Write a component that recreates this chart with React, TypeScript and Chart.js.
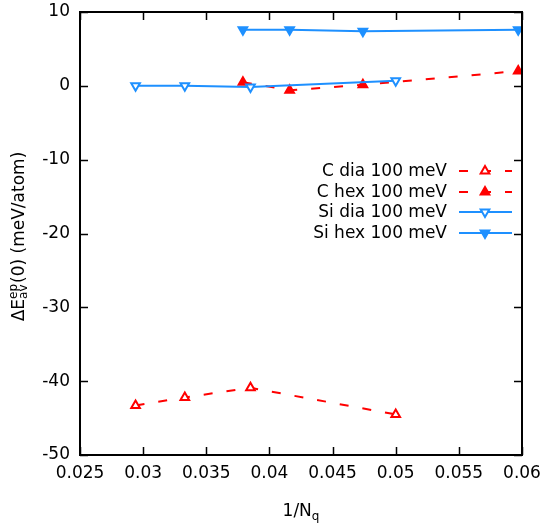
import React, { useEffect, useRef } from "react";
import { Chart, registerables } from "chart.js";

Chart.register(...registerables);

const xCdia = [0.0294, 0.0333, 0.0385, 0.05];
const yCdia = [-43.3, -42.2, -40.9, -44.5];
const xChex = [0.0379, 0.0416, 0.0474, 0.0597];
const yChex = [0.5, -0.6, 0.15, 2.0];
const xSidia = [0.0294, 0.0333, 0.0385, 0.05];
const ySidia = [0.0, 0.0, -0.15, 0.7];
const xSihex = [0.0379, 0.0416, 0.0474, 0.0597];
const ySihex = [7.6, 7.6, 7.4, 7.6];

const seriesNames = ["C dia 100 meV", "C hex 100 meV", "Si dia 100 meV", "Si hex 100 meV"];
const xTicks = [0.025, 0.03, 0.035, 0.04, 0.045, 0.05, 0.055, 0.06];
const yTicks = [10, 0, -10, -20, -30, -40, -50];

const RED = "#ff0000";
const BLUE = "#1e90ff";
const FONT = "DejaVu Sans";
const DASH = [9, 14];
const MR = 5;

function pts(xs: number[], ys: number[]) {
  return xs.map((x, i) => ({ x, y: ys[i] }));
}

function tri(ctx: CanvasRenderingContext2D, x: number, y: number, r: number, down: boolean, filled: boolean, color: string) {
  ctx.save();
  ctx.beginPath();
  const s = down ? -1 : 1;
  ctx.moveTo(x, y - s * r);
  ctx.lineTo(x + r * Math.sin((2 * Math.PI) / 3), y + s * r * 0.5);
  ctx.lineTo(x - r * Math.sin((2 * Math.PI) / 3), y + s * r * 0.5);
  ctx.closePath();
  ctx.setLineDash([]);
  ctx.lineWidth = 2;
  ctx.strokeStyle = color;
  ctx.fillStyle = filled ? color : "#ffffff";
  ctx.fill();
  ctx.stroke();
  ctx.restore();
}

const framePlugin = {
  id: "frame",
  afterDraw(chart: any) {
    const ctx = chart.ctx as CanvasRenderingContext2D;
    const { left, right, top, bottom } = chart.chartArea;
    const xs = chart.scales.x;
    const ys = chart.scales.y;
    ctx.save();
    ctx.strokeStyle = "#000";
    ctx.lineWidth = 2;
    ctx.setLineDash([]);
    ctx.strokeRect(left, top, right - left, bottom - top);
    ctx.lineWidth = 1.5;
    const tl = 8;
    ctx.beginPath();
    xTicks.forEach((v) => {
      const p = Math.round(xs.getPixelForValue(v)) + 0.5;
      ctx.moveTo(p, bottom);
      ctx.lineTo(p, bottom - tl);
      ctx.moveTo(p, top);
      ctx.lineTo(p, top + tl);
    });
    yTicks.forEach((v) => {
      const p = Math.round(ys.getPixelForValue(v)) + 0.5;
      ctx.moveTo(left, p);
      ctx.lineTo(left + tl, p);
      ctx.moveTo(right, p);
      ctx.lineTo(right - tl, p);
    });
    ctx.stroke();

    // x title
    ctx.fillStyle = "#000";
    ctx.textBaseline = "alphabetic";
    ctx.font = `17px ${FONT}`;
    const main = "1/N";
    const wMain = ctx.measureText(main).width;
    ctx.font = `12px ${FONT}`;
    const wSub = ctx.measureText("q").width;
    const cx = (left + right) / 2;
    const x0 = cx - (wMain + wSub) / 2;
    ctx.font = `17px ${FONT}`;
    ctx.textAlign = "left";
    ctx.fillText(main, x0, 516);
    ctx.font = `12px ${FONT}`;
    ctx.fillText("q", x0 + wMain, 520);

    // y title (rotated)
    ctx.save();
    ctx.translate(24, (top + bottom) / 2 + 3);
    ctx.rotate(-Math.PI / 2);
    ctx.font = `17px ${FONT}`;
    const a = "ΔE";
    const wa = ctx.measureText(a).width;
    ctx.font = `12px ${FONT}`;
    const wsup = ctx.measureText("ep").width;
    const wsub = ctx.measureText("av").width;
    const wss = Math.max(wsup, wsub);
    ctx.font = `17px ${FONT}`;
    const b = "(0) (meV/atom)";
    const wb = ctx.measureText(b).width;
    const total = wa + wss + 1 + wb;
    let px = -total / 2;
    ctx.fillText(a, px, 0);
    px += wa;
    ctx.font = `12px ${FONT}`;
    ctx.fillText("ep", px, -7);
    ctx.fillText("av", px, 3);
    px += wss + 1;
    ctx.font = `17px ${FONT}`;
    ctx.fillText(b, px, 0);
    ctx.restore();

    // legend
    const rows = [171, 192, 212, 233];
    const textRight = 447;
    const l0 = 459;
    const l1 = 512;
    const mx = 485;
    ctx.font = `17px ${FONT}`;
    ctx.textAlign = "right";
    ctx.textBaseline = "middle";
    seriesNames.forEach((name, i) => {
      const y = rows[i];
      ctx.fillStyle = "#000";
      ctx.fillText(name, textRight, y + 1);
      const isC = i < 2;
      const color = isC ? RED : BLUE;
      ctx.save();
      ctx.strokeStyle = color;
      ctx.lineWidth = 2;
      ctx.setLineDash(isC ? DASH : []);
      ctx.beginPath();
      ctx.moveTo(l0, y);
      ctx.lineTo(l1, y);
      ctx.stroke();
      ctx.restore();
      tri(ctx, mx, y, MR, !isC, i % 2 === 1, color);
    });
    ctx.restore();
  },
};

export default function App() {
  const ref = useRef<HTMLCanvasElement | null>(null);
  useEffect(() => {
    if (!ref.current) return;
    Chart.defaults.font.family = FONT;
    const mk = (label: string, xs: number[], ys: number[], color: string, dashed: boolean, down: boolean, filled: boolean) => ({
      label,
      data: pts(xs, ys),
      showLine: true,
      borderColor: color,
      borderWidth: 2,
      borderDash: dashed ? DASH : [],
      pointStyle: "triangle",
      pointRotation: down ? 180 : 0,
      pointRadius: MR,
      pointBorderWidth: 2,
      pointBorderColor: color,
      pointBackgroundColor: filled ? color : "#ffffff",
      backgroundColor: filled ? color : "#ffffff",
      tension: 0,
    });
    const chart = new Chart(ref.current, {
      type: "scatter",
      data: {
        datasets: [
          mk(seriesNames[3], xSihex, ySihex, BLUE, false, true, true),
          mk(seriesNames[2], xSidia, ySidia, BLUE, false, true, false),
          mk(seriesNames[1], xChex, yChex, RED, true, false, true),
          mk(seriesNames[0], xCdia, yCdia, RED, true, false, false),
        ],
      },
      options: {
        animation: false,
        responsive: false,
        maintainAspectRatio: false,
        layout: { padding: { top: 12, right: 23, left: 0, bottom: 0 } },
        plugins: { legend: { display: false }, tooltip: { enabled: false } },
        scales: {
          x: {
            type: "linear",
            min: 0.025,
            max: 0.06,
            grid: { display: false, drawTicks: false },
            border: { display: false },
            ticks: {
              stepSize: 0.005,
              padding: 8,
              color: "#000",
              font: { size: 17, family: FONT },
              maxRotation: 0,
              autoSkip: false,
              callback: (v: any) => String(Math.round(Number(v) * 1000) / 1000),
            },
            afterFit: (s: any) => {
              s.height = 68;
              s.paddingLeft = 0;
              s.paddingRight = 0;
            },
          },
          y: {
            type: "linear",
            min: -50,
            max: 10,
            grid: { display: false, drawTicks: false },
            border: { display: false },
            ticks: {
              stepSize: 10,
              padding: 10,
              color: "#000",
              font: { size: 17, family: FONT },
            },
            afterFit: (s: any) => {
              s.width = 80;
              s.paddingTop = 0;
              s.paddingBottom = 0;
            },
          },
        },
      },
      plugins: [framePlugin],
    } as any);
    return () => chart.destroy();
  }, []);
  return (
    <div style={{ position: "absolute", left: 0, top: 0, width: 545, height: 523, background: "#fff" }}>
      <canvas ref={ref} width={545} height={523} style={{ display: "block" }} />
    </div>
  );
}
